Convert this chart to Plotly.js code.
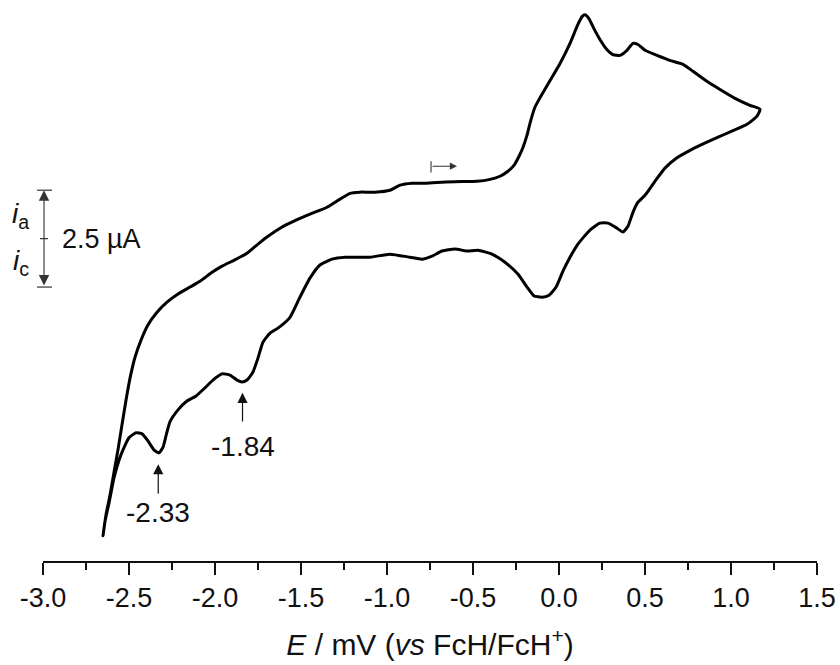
<!DOCTYPE html>
<html>
<head>
<meta charset="utf-8">
<script src="https://cdn.plot.ly/plotly-3.0.1.min.js"></script>
<style>
  html, body { margin: 0; padding: 0; background: #fff; }
  #cv { width: 840px; height: 665px; }
</style>
</head>
<body>
<div id="cv"></div>
<script>
// Cyclic voltammogram: scan starts near -0.71 V, sweeps anodic to the
// vertex at +1.17 V, back cathodic to -2.65 V, and returns to the start.
const potential = [
  -0.709, -0.605, -0.477, -0.401, -0.343, -0.297, -0.262, -0.233, -0.209, -0.186,
  -0.169, -0.140, -0.110, -0.052, 0.006, 0.064, 0.110, 0.134, 0.151, 0.174,
  0.203, 0.238, 0.273, 0.314, 0.355, 0.395, 0.430, 0.459, 0.500, 0.570,
  0.645, 0.721, 0.779, 0.860, 0.936, 1.023, 1.110, 1.169,
  1.151, 1.093, 0.977, 0.860, 0.762, 0.680, 0.616, 0.558, 0.500, 0.459,
  0.430, 0.401, 0.372, 0.337, 0.285, 0.238, 0.180, 0.110, 0.064, 0.023,
  -0.017, -0.058, -0.099, -0.145, -0.186, -0.238, -0.314, -0.390, -0.471, -0.535,
  -0.605, -0.680, -0.738, -0.797, -0.866, -0.983, -1.099, -1.244, -1.320, -1.390,
  -1.448, -1.506, -1.564, -1.634, -1.680, -1.721, -1.750, -1.779, -1.814, -1.843,
  -1.872, -1.913, -1.959, -2.012, -2.058, -2.110, -2.163, -2.215, -2.262, -2.285,
  -2.302, -2.326, -2.355, -2.390, -2.424, -2.459, -2.500, -2.547, -2.587, -2.616,
  -2.640, -2.651,
  -2.634, -2.610, -2.587, -2.564, -2.541, -2.517, -2.494, -2.465, -2.430, -2.390,
  -2.337, -2.279, -2.215, -2.145, -2.087, -2.017, -1.959, -1.890, -1.814, -1.750,
  -1.692, -1.622, -1.541, -1.448, -1.349, -1.273, -1.215, -1.157, -1.070, -0.983,
  -0.924, -0.855, -0.779, -0.709
];
const currentUA = [
  -0.03, -0.01, 0.00, 0.05, 0.13, 0.26, 0.41, 0.64, 0.88, 1.19,
  1.49, 1.91, 2.16, 2.60, 3.04, 3.56, 4.05, 4.25, 4.30, 4.20,
  3.94, 3.66, 3.43, 3.27, 3.25, 3.38, 3.56, 3.53, 3.38, 3.25,
  3.12, 3.02, 2.84, 2.58, 2.37, 2.14, 1.96, 1.86,
  1.68, 1.47, 1.24, 1.01, 0.80, 0.59, 0.34, 0.00, -0.36, -0.54,
  -0.80, -1.16, -1.31, -1.21, -1.08, -1.08, -1.26, -1.62, -1.96, -2.32,
  -2.73, -2.94, -2.99, -2.96, -2.73, -2.40, -2.09, -1.88, -1.78, -1.80,
  -1.75, -1.80, -1.93, -2.01, -1.96, -1.88, -1.96, -1.96, -2.01, -2.16,
  -2.50, -2.99, -3.51, -3.79, -3.92, -4.15, -4.56, -4.92, -5.13, -5.18,
  -5.13, -5.00, -4.97, -5.13, -5.33, -5.54, -5.67, -5.90, -6.21, -6.57,
  -6.86, -7.01, -6.93, -6.70, -6.52, -6.49, -6.62, -7.06, -7.65, -8.30,
  -8.79, -9.15,
  -8.61, -8.09, -7.50, -6.93, -6.29, -5.64, -5.08, -4.54, -4.10, -3.71,
  -3.38, -3.12, -2.91, -2.73, -2.58, -2.35, -2.19, -2.04, -1.86, -1.62,
  -1.42, -1.21, -1.03, -0.85, -0.67, -0.46, -0.31, -0.28, -0.28, -0.23,
  -0.10, -0.05, -0.05, -0.03
];

// Axis ticks and labels
const tickValues = [-3.0, -2.5, -2.0, -1.5, -1.0, -0.5, 0.0, 0.5, 1.0, 1.5];
const tickLabels = ["-3.0", "-2.5", "-2.0", "-1.5", "-1.0", "-0.5", "0.0", "0.5", "1.0", "1.5"];

// Marked cathodic peak potentials (V)
const peakPotentials = [-2.33, -1.84];
const peakTexts = ["-2.33", "-1.84"];

// Current scale bar (µA) and scan start
const scaleBarUA = 2.5;
const scaleBarTopUA = -0.23;
const scanStart = -0.744;
const scanDirEnd = -0.593;

const FONT = '"Liberation Sans", Arial, Helvetica, sans-serif';
const INK = '#111';

const trace = {
  x: potential,
  y: currentUA,
  type: 'scatter',
  mode: 'lines',
  line: { color: '#000', width: 3, shape: 'spline', smoothing: 0.5 },
  hoverinfo: 'skip'
};

// arrow geometry (data units)
const peakTip = [-7.30, -5.46];
const peakTail = [-8.10, -6.24];
const peakLabelY = [-8.55, -6.85];

const annotations = [];
peakPotentials.forEach((p, k) => {
  annotations.push({
    x: p, y: peakTip[k], xref: 'x', yref: 'y',
    ax: p, ay: peakTail[k], axref: 'x', ayref: 'y',
    text: '', showarrow: true, arrowhead: 2, arrowsize: 1.7,
    arrowwidth: 1.2, arrowcolor: INK, standoff: 0, startstandoff: 0
  });
  annotations.push({
    x: p, y: peakLabelY[k], xref: 'x', yref: 'y',
    text: peakTexts[k], showarrow: false,
    font: { family: FONT, size: 28, color: INK },
    xanchor: 'center', yanchor: 'middle'
  });
});

// scale bar (double-headed)
const barX = -2.994;
const barBottom = scaleBarTopUA - scaleBarUA;
annotations.push({
  x: barX, y: scaleBarTopUA, xref: 'x', yref: 'y',
  ax: barX, ay: barBottom, axref: 'x', ayref: 'y',
  text: '', showarrow: true, arrowhead: 2, arrowside: 'end+start',
  arrowsize: 1.9, arrowwidth: 1.1, arrowcolor: '#333', standoff: 0, startstandoff: 0
});
annotations.push({
  x: -0.029, xref: 'paper', y: -0.88, yref: 'y',
  text: '<i>i</i><sub>a</sub>', showarrow: false,
  font: { family: FONT, size: 28, color: INK }, xanchor: 'center', yanchor: 'middle'
});
annotations.push({
  x: -0.029, xref: 'paper', y: -2.09, yref: 'y',
  text: '<i>i</i><sub>c</sub>', showarrow: false,
  font: { family: FONT, size: 28, color: INK }, xanchor: 'center', yanchor: 'middle'
});
annotations.push({
  x: -2.900, xref: 'x', y: scaleBarTopUA - scaleBarUA / 2, yref: 'y',
  text: scaleBarUA.toFixed(1) + ' \u00B5A', showarrow: false,
  font: { family: FONT, size: 27, color: INK }, xanchor: 'left', yanchor: 'middle'
});
// scan direction arrow
annotations.push({
  x: scanDirEnd, y: 0.39, xref: 'x', yref: 'y',
  ax: scanStart, ay: 0.39, axref: 'x', ayref: 'y',
  text: '', showarrow: true, arrowhead: 2, arrowsize: 1.3,
  arrowwidth: 1.1, arrowcolor: '#333', standoff: 0, startstandoff: 0
});

const shapes = [
  // scale bar caps and midpoint tick
  { type: 'line', xref: 'paper', yref: 'y', x0: -0.0078, x1: 0.0116,
    y0: scaleBarTopUA, y1: scaleBarTopUA, line: { color: '#333', width: 1.2 } },
  { type: 'line', xref: 'paper', yref: 'y', x0: -0.0078, x1: 0.0116,
    y0: barBottom, y1: barBottom, line: { color: '#333', width: 1.2 } },
  { type: 'line', xref: 'paper', yref: 'y', x0: -0.004, x1: 0.0065,
    y0: scaleBarTopUA - scaleBarUA / 2, y1: scaleBarTopUA - scaleBarUA / 2,
    line: { color: '#333', width: 1.2 } },
  // scan start bar
  { type: 'line', xref: 'x', yref: 'y', x0: scanStart, x1: scanStart,
    y0: 0.23, y1: 0.52, line: { color: '#333', width: 1.1 } }
];

const layout = {
  width: 840,
  height: 665,
  margin: { l: 43, r: 23, t: 5, b: 104 },
  paper_bgcolor: '#fff',
  plot_bgcolor: '#fff',
  showlegend: false,
  font: { family: FONT, color: INK },
  xaxis: {
    range: [-3.0, 1.5],
    tickmode: 'array',
    tickvals: tickValues,
    ticktext: tickLabels,
    showline: true,
    linecolor: INK,
    linewidth: 1.5,
    ticks: 'outside',
    ticklen: 12,
    tickwidth: 1.5,
    tickcolor: INK,
    minor: { dtick: 0.25, tick0: -3.0, ticks: 'outside', ticklen: 7, tickwidth: 1.5, tickcolor: INK, showgrid: false },
    showgrid: false,
    zeroline: false,
    tickfont: { family: FONT, size: 27, color: INK },
    title: {
      text: '<i>E</i> / mV (<i>vs</i> FcH/FcH<sup>+</sup>)',
      font: { family: FONT, size: 30, color: INK },
      standoff: 22
    }
  },
  yaxis: {
    range: [-9.8, 4.55],
    visible: false,
    showgrid: false,
    zeroline: false
  },
  annotations: annotations,
  shapes: shapes
};

Plotly.newPlot('cv', [trace], layout, { staticPlot: true, displayModeBar: false });
</script>
</body>
</html>
